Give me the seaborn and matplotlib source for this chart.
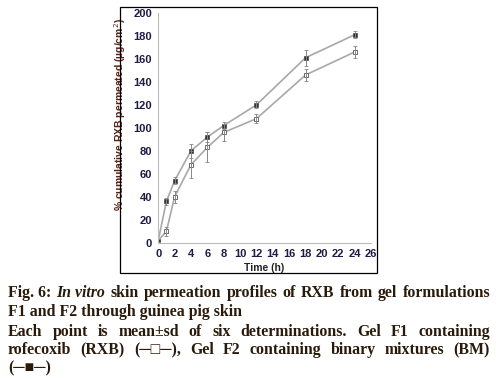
import numpy as np
import pandas as pd
import matplotlib
matplotlib.use('Agg')
import matplotlib.pyplot as plt
import seaborn as sns
from matplotlib.patches import Rectangle

# data
time_h = [0, 1, 2, 4, 6, 8, 12, 18, 24]
f1_mean = [2, 10, 40, 68, 83, 96, 108, 146, 166]   # Gel F1, RXB (open squares)
f1_sd = [1, 4, 5, 12, 13, 7, 4, 5, 5]
f2_mean = [2, 36, 54, 80, 92, 102, 120, 161, 181]  # Gel F2, BM (filled squares)
f2_sd = [1, 3, 3, 6, 4, 3, 3, 7, 3]

df = pd.DataFrame({
    'Time': time_h * 2,
    'Mean': f1_mean + f2_mean,
    'SD': f1_sd + f2_sd,
    'Gel': ['F1'] * len(time_h) + ['F2'] * len(time_h),
})

sns.set_style('white')
fig = plt.figure(figsize=(4.96, 3.80), dpi=100)
ax = fig.add_axes([0.319, 0.361, 0.429, 0.605])

line_col = '#a8a8a8'
sns.lineplot(data=df, x='Time', y='Mean', hue='Gel', palette=[line_col, line_col],
             style='Gel', markers={'F1': 's', 'F2': 's'}, dashes=False,
             linewidth=1.2, markersize=3, legend=False, ax=ax)
for line, face in zip(ax.get_lines(), ['white', '#333333']):
    line.set_markerfacecolor(face)
    line.set_markeredgecolor('#555555')
    line.set_markeredgewidth(0.6)

for g in ['F1', 'F2']:
    d = df[df['Gel'] == g]
    ax.errorbar(d['Time'], d['Mean'], yerr=d['SD'], fmt='none',
                ecolor='#888888', elinewidth=0.7, capsize=1.2, capthick=0.6)

ax.set_xlim(0, 26)
ax.set_ylim(0, 200)
ax.set_xticks(range(0, 27, 2))
ax.set_yticks(range(0, 201, 20))
tick_col = '#1c1c44'
ax.tick_params(axis='both', direction='out', length=2.5, width=0.6, color='#bbbbbb',
               labelsize=8, labelcolor=tick_col, pad=2)
for lab in ax.get_xticklabels() + ax.get_yticklabels():
    lab.set_fontweight('bold')
    lab.set_family('Liberation Sans')
for side in ['top', 'right']:
    ax.spines[side].set_visible(False)
for side in ['left', 'bottom']:
    ax.spines[side].set_color('#bbbbbb')
    ax.spines[side].set_linewidth(0.8)

ax.set_xlabel('Time (h)', fontsize=7.5, fontweight='bold', color='#222222',
              family='Liberation Sans', labelpad=3)
ax.set_ylabel('% cumulative RXB permeated (µg/cm$^2$)', fontsize=7.5, fontweight='bold',
              color='#5a2418', family='Liberation Sans')
ax.yaxis.set_label_coords(-0.141, 0.56)

# box round the chart
fig.patches.append(Rectangle((0.242, 0.282), 0.518, 0.700, transform=fig.transFigure,
                             fill=False, edgecolor='black', linewidth=0.9))

# caption
cap_kw = dict(fontsize=11.4, fontweight='bold', color='#2a1a0a', family='Liberation Serif',
              va='center', ha='left')
x_left, x_right = 8 / 496, 490 / 496
renderer = fig.canvas.get_renderer()


def text_width(s, **kw):
    t = fig.text(0, 0, s, **kw)
    w = t.get_window_extent(renderer).width / fig.bbox.width
    t.remove()
    return w


def justify(words, y, styles=None):
    styles = styles or [{}] * len(words)
    widths = [text_width(w, **{**cap_kw, **s}) for w, s in zip(words, styles)]
    gap = (x_right - x_left - sum(widths)) / (len(words) - 1)
    x = x_left
    for w, s, wd in zip(words, styles, widths):
        fig.text(x, y, w, **{**cap_kw, **s})
        x += wd + gap


line1 = ['Fig. 6:', 'In vitro', 'skin', 'permeation', 'profiles', 'of', 'RXB', 'from', 'gel',
         'formulations']
st1 = [{}] + [{'style': 'italic'}] + [{}] * 8
justify(line1, 1 - 293 / 380, st1)
fig.text(x_left, 1 - 312 / 380, 'F1 and F2 through guinea pig skin', **cap_kw)
justify('Each point is mean±sd of six determinations. Gel F1 containing'.split(), 1 - 332 / 380)
justify('rofecoxib (RXB) (─□─), Gel F2 containing binary mixtures (BM)'.split(), 1 - 350 / 380)
fig.text(x_left, 1 - 368 / 380, '(─■─)', **cap_kw)

fig.savefig('out.png', dpi=100)
